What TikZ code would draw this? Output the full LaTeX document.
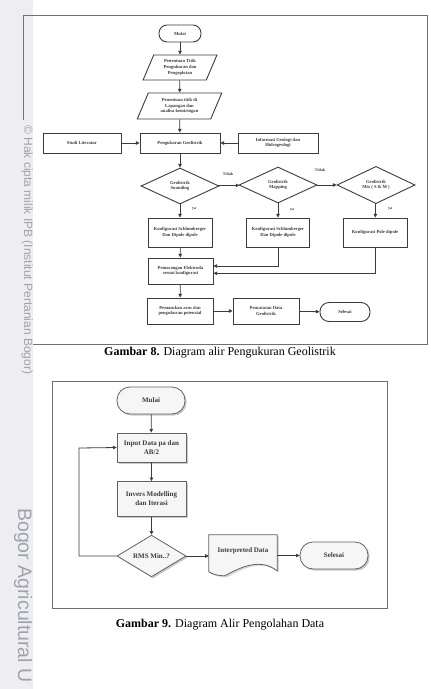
\documentclass[tikz,border=0pt]{standalone}
\usepackage{fontspec}
\setmainfont{Liberation Serif}
\newfontfamily\wmfont{Liberation Sans}
\usetikzlibrary{shapes.geometric,arrows.meta,shadows,calc}
\definecolor{ln}{HTML}{3C3C3C}
\definecolor{frm}{HTML}{707070}
\definecolor{wm}{HTML}{9EA3B0}
\definecolor{strip}{HTML}{EEEEF0}
\begin{document}
\begin{tikzpicture}[x=1pt,y=-1pt,
  fa/.style={font=\fontsize{4.6}{5.6}\selectfont\bfseries, text=ln},
  fb/.style={font=\fontsize{7}{9}\selectfont\bfseries, text=ln},
  box1/.style={draw=ln, line width=0.9pt, fill=white, align=center, inner sep=1pt, fa},
  oval1/.style={box1, rounded corners=8pt},
  para1/.style={box1, trapezium, trapezium left angle=68, trapezium right angle=112, trapezium stretches=true},
  dia1/.style={box1, diamond, inner sep=0pt},
  box2/.style={draw=ln!80, line width=0.8pt, fill=gray!7, align=center, inner sep=1pt, fb,
     drop shadow={shadow xshift=1.6pt, shadow yshift=-1.6pt, fill=gray!70, opacity=.6}},
  lab/.style={font=\fontsize{4}{5}\selectfont\bfseries, text=ln, inner sep=0pt},
  arr/.style={draw=ln, line width=0.8pt, -{Triangle[length=3.6pt,width=3.4pt]}},
  captxt/.style={font=\fontsize{12}{14}\selectfont, text=black, inner sep=0pt}
]
\useasboundingbox (0,0) rectangle (431,689);
\fill[white] (0,0) rectangle (431,689);
% left strip and watermark
\fill[strip] (0,0) rectangle (33,689);
% figure 1 frame
\draw[frm, line width=0.9pt] (23,120) -- (23,15) -- (427,15) -- (427,344) -- (33,344);
\node[text=wm, font=\wmfont\fontsize{12}{14}\selectfont, rotate=-90, anchor=base west, inner sep=0pt] (wm1) at (24,125) {© Hak cipta milik IPB (Institut Pertanian Bogor)};
\node[text=wm, font=\wmfont\fontsize{19.5}{22}\selectfont, rotate=-90, anchor=base west, inner sep=0pt] (wm2) at (18,508) {Bogor Agricultural U};

% ---------- Figure 1 ----------
\node[oval1, minimum width=42pt, minimum height=17pt] (m1) at (180,33.5) {Mulai};
\node[para1, minimum width=74pt, minimum height=25pt] (p1) at (180,67.5) {Penentuan Titik\\Pengukuran dan\\Pengeplotan};
\node[para1, minimum width=85pt, minimum height=26pt] (p2) at (179.5,106) {Penentuan titik di\\Lapangan dan\\analisa kemiringan};
\node[box1, minimum width=78pt, minimum height=20pt] (st) at (82,143) {Studi Literatur};
\node[box1, minimum width=80pt, minimum height=20pt] (pg) at (180,143) {Pengukuran Geolistrik};
\node[box1, minimum width=80pt, minimum height=20pt] (inf) at (278,143) {Informasi Geologi dan\\Hidrogeologi};
\node[dia1, minimum width=78pt, minimum height=36pt] (d1) at (180,186) {Geolistrik\\Sounding};
\node[dia1, minimum width=78pt, minimum height=36pt] (d2) at (278,185) {Geolistrik\\Mapping};
\node[dia1, minimum width=78pt, minimum height=36pt] (d3) at (376,185) {Geolistrik\\Mix ( S \& M )};
\node[box1, minimum width=64pt, minimum height=29pt] (k1) at (180,232.5) {Konfigurasi Schlumberger\\Dan Dipole dipole};
\node[box1, minimum width=63pt, minimum height=29pt] (k2) at (278,232.5) {Konfigurasi Schlumberger\\Dan Dipole dipole};
\node[box1, minimum width=64pt, minimum height=29pt] (k3) at (375,232.5) {Konfigurasi Pole dipole};
\node[box1, minimum width=65pt, minimum height=26pt] (ps) at (180.5,271) {Pemasangan Elektroda\\sesuai konfigurasi};
\node[box1, minimum width=66pt, minimum height=26pt] (pm) at (180,311) {Pemasukan arus dan\\pengukuran potensial};
\node[box1, minimum width=66pt, minimum height=26pt] (pc) at (266,311) {Pencatatan Data\\Geolistrik};
\node[oval1, minimum width=50pt, minimum height=19pt, rounded corners=9pt] (s1) at (345,312) {Selesai};

\node[lab] (t1) at (228,174) {Tidak};
\node[lab] (t2) at (320,170) {Tidak};
\node[lab] (y1) at (194,209) {ya};
\node[lab] (y2) at (292,210) {ya};
\node[lab] (y3) at (390,209) {ya};

\draw[arr] (m1) -- (p1);
\draw[arr] (p1) -- (p2);
\draw[arr] (p2) -- (pg);
\draw[arr] (st) -- (pg);
\draw[arr] (inf) -- (pg);
\draw[arr] (pg) -- (d1);
\draw[arr] (d1) -- (d2);
\draw[arr] (d2) -- (d3);
\draw[arr] (d1) -- (k1);
\draw[arr] (d2) -- (k2);
\draw[arr] (d3) -- (k3);
\draw[arr] (k1) -- (ps);
\draw[arr] (k2.south) |- ($(ps.east)+(0,-5)$);
\draw[arr] (k3.south) |- ($(ps.east)+(0,2.3)$);
\draw[arr] (ps) -- (pm);
\draw[arr] (pm) -- (pc);
\draw[arr] (pc) -- (s1);

\node[captxt] (c8) at (220,352.5) {\textbf{Gambar 8.} Diagram alir Pengukuran Geolistrik};

% ---------- Figure 2 ----------
\draw[frm, line width=1pt] (52,381) rectangle (387,608);
\node[box2, minimum width=68pt, minimum height=27pt, rounded corners=13pt, drop shadow={opacity=0}] (m2) at (151,400.5) {Mulai};
\node[box2, minimum width=69pt, minimum height=29pt] (in) at (151.5,447.5) {Input Data pa dan\\AB/2};
\node[box2, minimum width=69pt, minimum height=35pt] (iv) at (151.5,499) {Invers Modelling\\dan Iterasi};
\node[box2, diamond, inner sep=0pt, minimum width=69pt, minimum height=40pt, drop shadow={opacity=0}] (rms) at (151.5,556) {RMS Min..?};
\node[inner sep=0pt, minimum width=68pt, minimum height=37pt] (doc) at (243,553.5) {};
\fill[gray!60, opacity=.5] ($(doc.north west)+(1.6,1.6)$) -- ($(doc.north east)+(1.6,1.6)$) -- ($(doc.north east)+(1.6,37.5)$)
   .. controls ($(doc.north east)+(-16,24)$) and ($(doc.north east)+(-34,34)$) .. ($(doc.north west)+(18,42.5)$)
   .. controls ($(doc.north west)+(10,42.5)$) and ($(doc.north west)+(5,41)$) .. ($(doc.north west)+(1.6,38)$) -- cycle;
\draw[draw=ln!80, line width=0.8pt, fill=gray!7] (doc.north west) -- (doc.north east) -- ($(doc.north east)+(0,36)$)
   .. controls ($(doc.north east)+(-17,23)$) and ($(doc.north east)+(-36,32)$) .. ($(doc.north west)+(16,41)$)
   .. controls ($(doc.north west)+(9,41)$) and ($(doc.north west)+(4,39.5)$) .. ($(doc.north west)+(0,37)$) -- cycle;
\node[fb] (dt) at (243,551) {Interpreted Data};
\node[box2, minimum width=68pt, minimum height=27pt, rounded corners=13pt, drop shadow={opacity=0}] (s2) at (334,555.5) {Selesai};

\draw[arr] (m2) -- (in);
\draw[arr] (in) -- (iv);
\draw[arr] (iv) -- (rms);
\draw[arr] (rms.east) -- (doc.west |- rms.east);
\draw[arr] (doc.east |- s2.west) -- (s2.west);
\draw[arr] (rms.west) -- (79,556) -- (79,448) -- (in.west);

\node[captxt] (c9) at (220,625) {\textbf{Gambar 9.} Diagram Alir Pengolahan Data};
\end{tikzpicture}
\end{document}
